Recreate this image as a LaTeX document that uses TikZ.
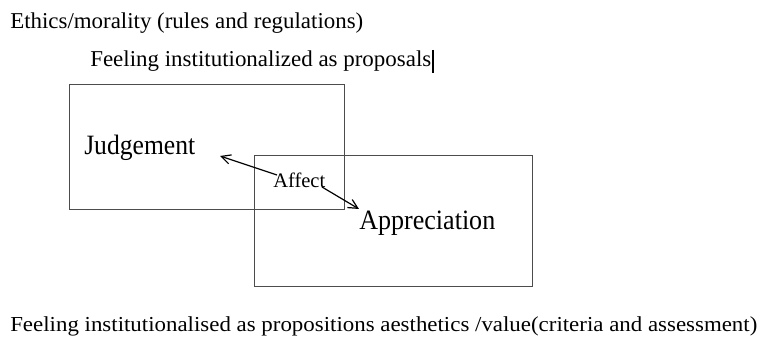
\documentclass[tikz,border=0pt]{standalone}
\usepackage{fontspec}
\setmainfont{Liberation Serif}
\usepackage{graphicx}
\usetikzlibrary{arrows.meta}
\begin{document}
\begin{tikzpicture}[x=0.75pt,y=-0.75pt,
  box/.style={draw=black!70,line width=0.75pt},
  lbl/.style={inner sep=0pt,anchor=base west},
  arr/.style={-{Straight Barb[length=7pt,width=7pt,line width=0.9pt]},line width=0.9pt}]
\useasboundingbox (0,0) rectangle (760,338);
\fill[white] (0,0) rectangle (760,338);
\draw[box] (69,85) rectangle (344,210);
\draw[box] (254,156) rectangle (532,287);
\node[lbl] (eth) at (10,29) {\resizebox{353\dimexpr0.75pt\relax}{\height}{\fontsize{17pt}{19pt}\selectfont Ethics/morality (rules and regulations)}};
\node[lbl] (feel) at (90,67) {\resizebox{341\dimexpr0.75pt\relax}{\height}{\fontsize{17pt}{19pt}\selectfont Feeling institutionalized as proposals}};
\coordinate (c1) at (433,50);
\coordinate (c2) at (433,73);
\draw[line width=1.2pt] (c1) -- (c2);
\node[lbl] (judg) at (84,155) {\resizebox{111\dimexpr0.75pt\relax}{\height}{\fontsize{21pt}{23pt}\selectfont Judgement}};
\node[lbl] (appr) at (359,230) {\resizebox{136\dimexpr0.75pt\relax}{\height}{\fontsize{21pt}{23pt}\selectfont Appreciation}};
\node[lbl] (aff) at (273,188) {\resizebox{52\dimexpr0.75pt\relax}{\height}{\fontsize{15.5pt}{17pt}\selectfont Affect}};
\node[lbl] (bot) at (10,331) {\resizebox{747\dimexpr0.75pt\relax}{\height}{\fontsize{16pt}{18pt}\selectfont Feeling institutionalised as propositions aesthetics /value(criteria and assessment)}};
\coordinate (a1s) at (277,175);
\coordinate (a1e) at (220,156);
\coordinate (a2s) at (322,187);
\coordinate (a2e) at (359,209);
\draw[arr] (a1s) -- (a1e);
\draw[arr] (a2s) -- (a2e);
\end{tikzpicture}
\end{document}
